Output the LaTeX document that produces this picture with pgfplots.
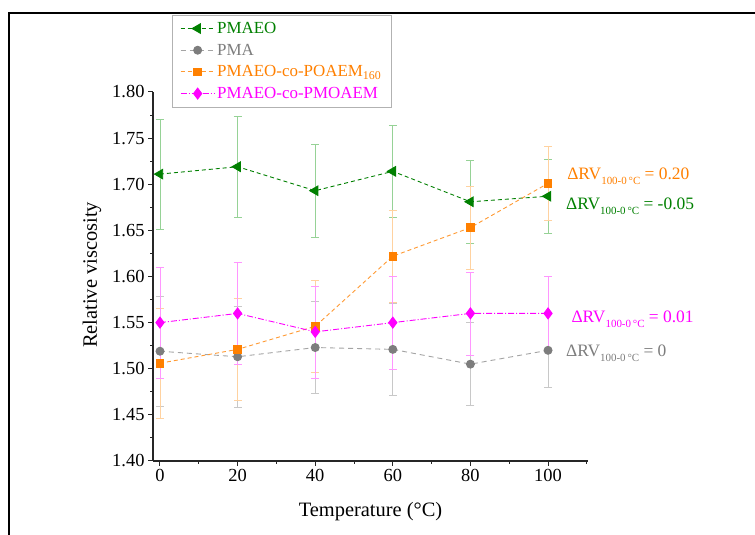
\documentclass[border=0pt]{standalone}
\usepackage{fontspec}
\setmainfont{Liberation Serif}
\usepackage{pgfplots}
\pgfplotsset{compat=1.18}
\definecolor{cgreen}{RGB}{0,128,0}
\definecolor{cgreenL}{RGB}{150,210,150}
\definecolor{cgray}{RGB}{125,125,125}
\definecolor{cgrayL}{RGB}{200,200,200}
\definecolor{corange}{RGB}{255,128,0}
\definecolor{corangeL}{RGB}{255,210,160}
\definecolor{cmag}{RGB}{255,0,255}
\definecolor{cmagL}{RGB}{255,150,255}
\pgfplotstableread{
x y e
0 1.711 0.060
20 1.719 0.055
40 1.693 0.050
60 1.714 0.050
80 1.681 0.045
100 1.687 0.040
}\pmaeo
\pgfplotstableread{
x y e
0 1.519 0.060
20 1.513 0.055
40 1.523 0.050
60 1.521 0.050
80 1.505 0.045
100 1.520 0.040
}\pma
\pgfplotstableread{
x y e
0 1.506 0.060
20 1.521 0.055
40 1.546 0.050
60 1.622 0.050
80 1.653 0.045
100 1.701 0.040
}\poaem
\pgfplotstableread{
x y e
0 1.550 0.060
20 1.560 0.055
40 1.540 0.050
60 1.550 0.050
80 1.560 0.045
100 1.560 0.040
}\pmoaem
\newcommand{\sub}{\raisebox{-5bp}{\fontsize{11}{11}\selectfont 100-0\,°C}}
\begin{document}
\begin{tikzpicture}
\useasboundingbox (0,0) rectangle (755bp,535bp);
\fill[white] (0,0) rectangle (755bp,535bp);
\draw[line width=2bp] (9bp,0) -- (9bp,522bp) -- (755bp,522bp);
\begin{axis}[
  at={(153bp,74bp)}, anchor=south west,
  scale only axis, width=435bp, height=369bp,
  xmin=-1.8, xmax=110.3, ymin=1.40, ymax=1.80,
  axis x line*=bottom, axis y line*=left,
  axis line style={line width=1.3bp, black!85},
  xtick={0,20,40,60,80,100}, minor xtick={10,30,50,70,90,110},
  ytick={1.40,1.45,1.50,1.55,1.60,1.65,1.70,1.75,1.80},
  minor ytick={1.425,1.475,1.525,1.575,1.625,1.675,1.725,1.775},
  tick align=outside, major tick length=5bp, minor tick length=3bp,
  tick style={black!85, line width=1bp},
  /pgf/number format/assume math mode=true,
  yticklabel style={/pgf/number format/.cd, fixed, fixed zerofill, precision=2},
  ticklabel style={font=\fontsize{18.5}{18.5}\selectfont},
  xlabel={Temperature (°C)}, ylabel={Relative viscosity},
  label style={font=\fontsize{20.5}{21}\selectfont},
  xlabel style={at={(axis description cs:0.5,-0.138)}, anchor=center},
  ylabel style={at={(axis description cs:-0.140,0.504)}, anchor=center, rotate=0},
  clip=false,
  legend cell align=left,
  legend style={at={(axis description cs:0.0437,1.2087)}, anchor=north west,
    draw=black!30, fill=white, font=\fontsize{17}{17}\selectfont,
    row sep=5bp, inner xsep=8bp, inner ysep=5bp},
  legend image code/.code={\draw[mark repeat=2,mark phase=2] plot coordinates {(0bp,0bp)(17bp,0bp)(34bp,0bp)};},
  error bars/error bar style={line width=0.8bp},
]
\addplot[cgreen, line width=0.9bp, dash pattern=on 4bp off 3bp, mark=triangle*, mark size=5.5bp,
  mark options={solid, rotate=90, fill=cgreen},
  error bars/.cd, y dir=both, y explicit,
  error bar style={color=cgreenL, solid},
  error mark options={rotate=90, mark size=4bp, color=cgreenL, solid}]
  table[x=x, y=y, y error=e] {\pmaeo};
\addlegendentry{\textcolor{cgreen}{PMAEO}}
\addplot[cgray!70, line width=0.9bp, dash pattern=on 5bp off 4bp, mark=*, mark size=4bp,
  mark options={solid, fill=cgray, draw=cgray},
  error bars/.cd, y dir=both, y explicit,
  error bar style={color=cgrayL, solid},
  error mark options={rotate=90, mark size=4bp, color=cgrayL, solid}]
  table[x=x, y=y, y error=e] {\pma};
\addlegendentry{\textcolor{cgray}{PMA}}
\addplot[corange!80, line width=0.9bp, dash pattern=on 4bp off 3bp, mark=square*, mark size=3.8bp,
  mark options={solid, fill=corange, draw=corange},
  error bars/.cd, y dir=both, y explicit,
  error bar style={color=corangeL, solid},
  error mark options={rotate=90, mark size=4bp, color=corangeL, solid}]
  table[x=x, y=y, y error=e] {\poaem};
\addlegendentry{\textcolor{corange}{PMAEO-co-POAEM\textsubscript{160}}}
\addplot[cmag, line width=0.9bp, dash pattern=on 6bp off 2bp on 1bp off 2bp, mark=diamond*, mark size=5.5bp,
  mark options={solid, fill=cmag, draw=cmag},
  error bars/.cd, y dir=both, y explicit,
  error bar style={color=cmagL, solid},
  error mark options={rotate=90, mark size=4bp, color=cmagL, solid}]
  table[x=x, y=y, y error=e] {\pmoaem};
\addlegendentry{\textcolor{cmag}{PMAEO-co-PMOAEM}}
\node[anchor=base west, inner sep=0, text=corange, font=\fontsize{17.5}{17.5}\selectfont] at (axis cs:104.9,1.705) {ΔRV\sub{} = 0.20};
\node[anchor=base west, inner sep=0, text=cgreen, font=\fontsize{17.5}{17.5}\selectfont] at (axis cs:104.6,1.673) {ΔRV\sub{} = -0.05};
\node[anchor=base west, inner sep=0, text=cmag, font=\fontsize{17.5}{17.5}\selectfont] at (axis cs:106.0,1.550) {ΔRV\sub{} = 0.01};
\node[anchor=base west, inner sep=0, text=cgray, font=\fontsize{17.5}{17.5}\selectfont] at (axis cs:104.6,1.513) {ΔRV\sub{} = 0};
\end{axis}
\end{tikzpicture}
\end{document}
